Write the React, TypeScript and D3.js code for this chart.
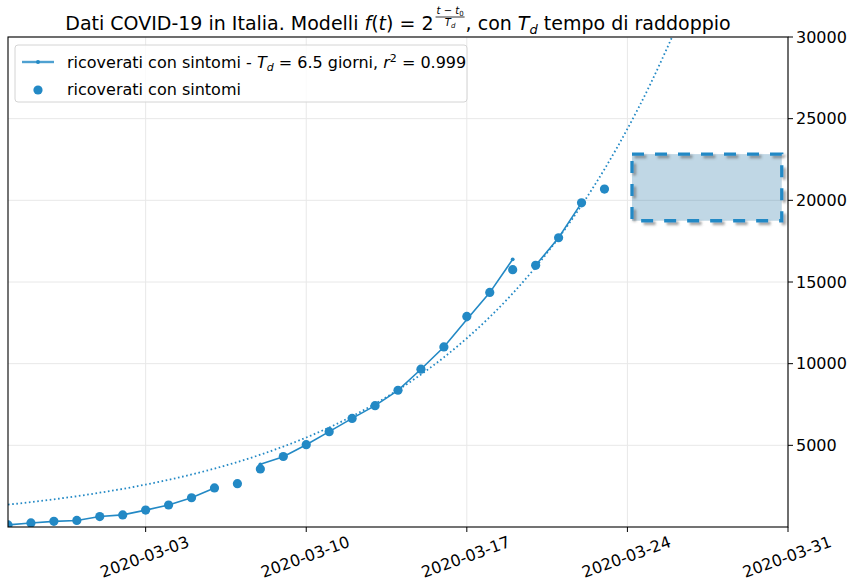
import React, { useEffect, useRef } from "react";
import * as d3 from "d3";

// ---- data ----
const startDate = "2020-02-26";
const pointValues = [128, 248, 345, 401, 639, 742, 1034, 1346, 1790, 2394, 2651, 3557, 4316, 5038, 5838, 6650, 7426, 8372, 9663, 11025, 12894, 14363, 15757, 16020, 17708, 19846, 20692];
const lineValues: (number | null)[] = [128, 248, 345, 401, 639, 742, 1034, 1346, 1790, 2394, null, 3840, 4300, 5040, 5840, 6650, 7430, 8370, 9660, 11020, 12700, 14350, 16390, 16020, 17708, 19846, null];
// segment breaks: line is split where value is null and between index 22 and 23
const lineSegmentsStart = [0, 11, 23];
const lineSegmentsEnd = [9, 22, 25];
const modelValues = [1370, 1524, 1696, 1886, 2099, 2335, 2598, 2890, 3215, 3577, 3979, 4427, 4925, 5479, 6095, 6781, 7544, 8393, 9337, 10387, 11556, 12856, 14302, 15911, 17701, 19692, 21907, 24372, 27114, 30164];
const xTickLabels = ["2020-03-03", "2020-03-10", "2020-03-17", "2020-03-24", "2020-03-31"];
const yTickValues = [5000, 10000, 15000, 20000, 25000, 30000];
const xDomainLabels = ["2020-02-26", "2020-03-31"];
const yDomain = [0, 30000];
const boxAxesX = [0.8, 0.992];
const boxAxesY = [0.625, 0.761];

const W = 853, H = 586;
const M = { left: 8, right: 65, top: 37, bottom: 59 };
const COLOR = "#2389c5";
const FONT = "DejaVu Sans";

export default function App() {
  const ref = useRef<SVGSVGElement>(null);
  useEffect(() => {
    const svg = d3.select(ref.current);
    svg.selectAll("*").remove();
    const parse = d3.timeParse("%Y-%m-%d");
    const start = parse(startDate)!;
    const dayDate = (i: number) => d3.timeDay.offset(start, i);
    const x = d3.scaleTime().domain(xDomainLabels.map((s) => parse(s)!)).range([M.left, W - M.right]);
    const y = d3.scaleLinear().domain(yDomain).range([H - M.bottom, M.top]);
    const x0 = M.left, x1 = W - M.right, y0 = H - M.bottom, y1 = M.top;

    const defs = svg.append("defs");
    defs.append("clipPath").attr("id", "clip").append("rect")
      .attr("x", x0).attr("y", y1).attr("width", x1 - x0).attr("height", y0 - y1);
    const f = defs.append("filter").attr("id", "shadow").attr("x", "-10%").attr("y", "-20%").attr("width", "130%").attr("height", "150%");
    f.append("feDropShadow").attr("dx", 2.5).attr("dy", 2.5).attr("stdDeviation", 1.3)
      .attr("flood-color", "#555").attr("flood-opacity", 0.55);

    svg.append("rect").attr("width", W).attr("height", H).attr("fill", "white");

    // grid
    const xTicks = xTickLabels.map((s) => parse(s)!);
    const grid = svg.append("g");
    xTicks.forEach((t) => {
      grid.append("line").attr("x1", x(t)).attr("x2", x(t)).attr("y1", y1).attr("y2", y0)
        .attr("stroke", "#e8e8e8").attr("stroke-width", 1);
    });
    yTickValues.forEach((v) => {
      grid.append("line").attr("x1", x0).attr("x2", x1).attr("y1", y(v)).attr("y2", y(v))
        .attr("stroke", "#e8e8e8").attr("stroke-width", 1);
    });

    const plot = svg.append("g").attr("clip-path", "url(#clip)");

    // model dotted curve
    const modelLine = d3.line<number>().x((_, i) => x(dayDate(i))).y((d) => y(d)).curve(d3.curveMonotoneX);
    plot.append("path").attr("d", modelLine(modelValues)!).attr("fill", "none")
      .attr("stroke", COLOR).attr("stroke-width", 1.8).attr("stroke-dasharray", "1.6 2.6");

    // solid line segments
    const segLine = d3.line<[number, number]>().x((d) => x(dayDate(d[0]))).y((d) => y(d[1]));
    lineSegmentsStart.forEach((s, k) => {
      const pts: [number, number][] = [];
      for (let i = s; i <= lineSegmentsEnd[k]; i++) {
        if (lineValues[i] != null) pts.push([i, lineValues[i] as number]);
      }
      plot.append("path").attr("d", segLine(pts)!).attr("fill", "none")
        .attr("stroke", COLOR).attr("stroke-width", 1.6);
      pts.forEach((p) => {
        plot.append("circle").attr("cx", x(dayDate(p[0]))).attr("cy", y(p[1])).attr("r", 1.9).attr("fill", COLOR);
      });
    });

    // scatter
    pointValues.forEach((v, i) => {
      plot.append("circle").attr("cx", x(dayDate(i))).attr("cy", y(v)).attr("r", 4.6).attr("fill", COLOR);
    });

    // box annotation
    const bx0 = x0 + boxAxesX[0] * (x1 - x0), bx1 = x0 + boxAxesX[1] * (x1 - x0);
    const by0 = y0 - boxAxesY[1] * (y0 - y1), by1 = y0 - boxAxesY[0] * (y0 - y1);
    svg.append("rect").attr("x", bx0).attr("y", by0).attr("width", bx1 - bx0).attr("height", by1 - by0)
      .attr("fill", "rgb(30,110,160)").attr("fill-opacity", 0.28);
    svg.append("rect").attr("x", bx0).attr("y", by0).attr("width", bx1 - bx0).attr("height", by1 - by0)
      .attr("fill", "none").attr("stroke", COLOR).attr("stroke-width", 3.3)
      .attr("stroke-dasharray", "12 11").attr("filter", "url(#shadow)");

    // spines
    svg.append("rect").attr("x", x0).attr("y", y1).attr("width", x1 - x0).attr("height", y0 - y1)
      .attr("fill", "none").attr("stroke", "#000").attr("stroke-width", 1.1);

    // y axis right
    yTickValues.forEach((v) => {
      svg.append("line").attr("x1", x1).attr("x2", x1 + 5).attr("y1", y(v)).attr("y2", y(v)).attr("stroke", "#000");
      svg.append("text").attr("x", x1 + 8).attr("y", y(v)).attr("dominant-baseline", "central")
        .attr("font-family", FONT).attr("font-size", 16).attr("fill", "#000").text(String(v));
    });
    // x axis
    xTicks.forEach((t, i) => {
      svg.append("line").attr("x1", x(t)).attr("x2", x(t)).attr("y1", y0).attr("y2", y0 + 5).attr("stroke", "#000");
      svg.append("text").attr("transform", `translate(${x(t) - 1},${y0 + 30}) rotate(-20)`)
        .attr("text-anchor", "middle").attr("dominant-baseline", "central")
        .attr("font-family", FONT).attr("font-size", 16).attr("fill", "#000").text(xTickLabels[i]);
    });

    // legend
    const lg = svg.append("g").attr("font-family", FONT).attr("font-size", 16);
    lg.append("rect").attr("x", 15).attr("y", 45).attr("width", 452).attr("height", 57).attr("rx", 3)
      .attr("fill", "white").attr("fill-opacity", 0.8).attr("stroke", "#d4d4d4");
    lg.append("line").attr("x1", 22).attr("x2", 54).attr("y1", 62).attr("y2", 62)
      .attr("stroke", COLOR).attr("stroke-width", 2.4).attr("stroke-opacity", 0.8);
    lg.append("circle").attr("cx", 38).attr("cy", 62).attr("r", 2).attr("fill", COLOR);
    const t1 = lg.append("text").attr("x", 67).attr("y", 67.5).attr("fill", "#000");
    t1.append("tspan").text("ricoverati con sintomi - ");
    t1.append("tspan").attr("font-style", "italic").text("T");
    t1.append("tspan").attr("font-style", "italic").attr("font-size", 11).attr("dy", 3).text("d");
    t1.append("tspan").attr("dy", -3).text(" = 6.5 giorni, ");
    t1.append("tspan").attr("font-style", "italic").text("r");
    t1.append("tspan").attr("font-size", 11).attr("dy", -6).text("2");
    t1.append("tspan").attr("dy", 6).text(" = 0.999");
    lg.append("circle").attr("cx", 38).attr("cy", 90).attr("r", 4.6).attr("fill", COLOR);
    lg.append("text").attr("x", 67).attr("y", 94.5).attr("fill", "#000").text("ricoverati con sintomi");

    // title
    const tg = svg.append("g").attr("font-family", FONT).attr("fill", "#000");
    const tA = tg.append("text").attr("x", 0).attr("y", 30).attr("font-size", 19);
    tA.append("tspan").text("Dati COVID-19 in Italia. Modelli ");
    tA.append("tspan").attr("font-style", "italic").text("f");
    tA.append("tspan").text("(");
    tA.append("tspan").attr("font-style", "italic").text("t");
    tA.append("tspan").text(") = 2");
    const wA = (tA.node() as SVGTextElement).getComputedTextLength();
    const fx = wA + 2;
    const num = tg.append("text").attr("y", 14).attr("font-size", 10).attr("text-anchor", "middle");
    num.append("tspan").attr("font-style", "italic").text("t");
    num.append("tspan").text(" − ");
    num.append("tspan").attr("font-style", "italic").text("t");
    num.append("tspan").attr("font-size", 7).attr("dy", 2).text("0");
    const wNum = (num.node() as SVGTextElement).getComputedTextLength();
    const den = tg.append("text").attr("y", 26).attr("font-size", 10).attr("text-anchor", "middle");
    den.append("tspan").attr("font-style", "italic").text("T");
    den.append("tspan").attr("font-style", "italic").attr("font-size", 7).attr("dy", 2).text("d");
    const wF = wNum + 2;
    num.attr("x", fx + wF / 2);
    den.attr("x", fx + wF / 2);
    tg.append("line").attr("x1", fx).attr("x2", fx + wF).attr("y1", 17).attr("y2", 17)
      .attr("stroke", "#000").attr("stroke-width", 0.8);
    const cx0 = fx + wF + 1;
    const tC = tg.append("text").attr("x", cx0).attr("y", 30).attr("font-size", 19);
    tC.append("tspan").text(", con ");
    tC.append("tspan").attr("font-style", "italic").text("T");
    tC.append("tspan").attr("font-style", "italic").attr("font-size", 13).attr("dy", 4).text("d");
    tC.append("tspan").attr("dy", -4).text(" tempo di raddoppio");
    const wC = (tC.node() as SVGTextElement).getComputedTextLength();
    const total = cx0 + wC;
    tg.attr("transform", `translate(${(x0 + x1) / 2 - total / 2},0)`);
  }, []);
  return (
    <svg ref={ref} width={W} height={H} style={{ position: "absolute", left: 0, top: 0 }} />
  );
}
